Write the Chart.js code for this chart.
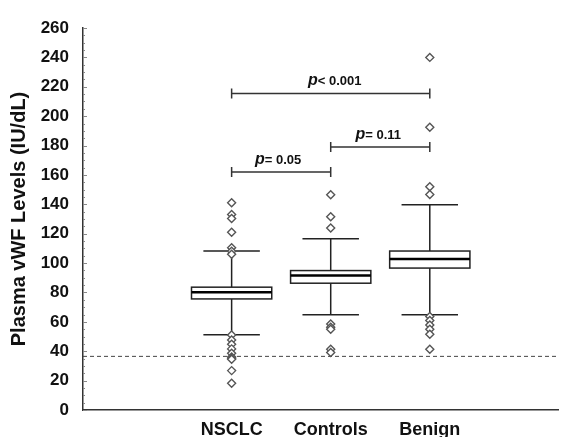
<!DOCTYPE html>
<html>
<head>
<meta charset="utf-8">
<script src="https://cdn.jsdelivr.net/npm/chart.js@4.4.0/dist/chart.umd.min.js"></script>
<style>
  html, body { margin: 0; padding: 0; background: #fff; }
  #wrap { width: 564px; height: 437px; }
</style>
</head>
<body>
<div id="wrap"><canvas id="chart" width="564" height="437"></canvas></div>
<script>
// groups and tick labels (x positions 0..4, outer two are blank)
const tickLabels = ['', 'NSCLC', 'Controls', 'Benign', ''];
const groupPos = [1, 2, 3];

// box stats per group: whisker low, q1, median, q3, whisker high
const whiskerLow = [51.3, 64.9, 64.9];
const q1 = [75.6, 86.3, 96.6];
const median = [80.2, 91.5, 102.7];
const q3 = [83.6, 94.9, 108.2];
const whiskerHigh = [108.2, 116.5, 139.7];

// outliers
const outNSCLC = [141, 133, 130.4, 121, 110.5, 108, 106, 51.1, 47.7, 44.8, 41.6, 38.6, 36, 35.2, 34.5, 26.8, 18.2];
const outControls = [146.5, 131.5, 123.8, 58.6, 56.4, 55.0, 41.4, 39.1];
const outBenign = [240, 192.4, 152, 146.7, 63.6, 60.9, 57.9, 55.0, 51.6, 41.4];

// cutoff line and p-value brackets
const cutoff = 36.5;
const brackets = [
  { from: 1, to: 3, y: 215.5, p: '< 0.001', shift: 4 },
  { from: 1, to: 2, y: 162, p: '= 0.05', shift: -3 },
  { from: 2, to: 3, y: 179, p: '= 0.11', shift: -2 }
];

const FONT = "'Liberation Sans', Arial, sans-serif";

function toPoints(x, vals) {
  return vals.map(v => ({ x: x, y: v }));
}

// draws boxes, whiskers, cutoff line, brackets using the chart scales
const boxPlugin = {
  id: 'boxes',
  beforeDatasetsDraw(chart) {
    const { ctx, scales: { x, y }, chartArea } = chart;
    ctx.save();

    // dashed cutoff
    ctx.strokeStyle = '#444';
    ctx.lineWidth = 1;
    ctx.setLineDash([4, 3]);
    ctx.beginPath();
    ctx.moveTo(chartArea.left, y.getPixelForValue(cutoff));
    ctx.lineTo(chartArea.right, y.getPixelForValue(cutoff));
    ctx.stroke();
    ctx.setLineDash([]);

    // small inside ticks on the y axis
    ctx.strokeStyle = '#888';
    for (let v = 0; v <= 260; v += 5) {
      const py = Math.round(y.getPixelForValue(v)) + 0.5;
      const len = v % 20 === 0 ? 4 : 2;
      ctx.beginPath();
      ctx.moveTo(chartArea.left, py);
      ctx.lineTo(chartArea.left + len, py);
      ctx.stroke();
    }

    ctx.strokeStyle = '#222';
    for (let i = 0; i < groupPos.length; i++) {
      const cx = x.getPixelForValue(groupPos[i]);
      const boxHalf = (x.getPixelForValue(groupPos[i] + 0.405) - cx);
      const capHalf = (x.getPixelForValue(groupPos[i] + 0.285) - cx);
      const yLo = y.getPixelForValue(whiskerLow[i]);
      const yHi = y.getPixelForValue(whiskerHigh[i]);
      const yQ1 = y.getPixelForValue(q1[i]);
      const yQ3 = y.getPixelForValue(q3[i]);
      const yMed = y.getPixelForValue(median[i]);

      ctx.lineWidth = 1.5;
      // whiskers
      ctx.beginPath();
      ctx.moveTo(cx, yLo); ctx.lineTo(cx, yQ1);
      ctx.moveTo(cx, yQ3); ctx.lineTo(cx, yHi);
      ctx.moveTo(cx - capHalf, yLo); ctx.lineTo(cx + capHalf, yLo);
      ctx.moveTo(cx - capHalf, yHi); ctx.lineTo(cx + capHalf, yHi);
      ctx.stroke();
      // box
      ctx.fillStyle = '#fff';
      ctx.fillRect(cx - boxHalf, yQ3, boxHalf * 2, yQ1 - yQ3);
      ctx.strokeRect(cx - boxHalf, yQ3, boxHalf * 2, yQ1 - yQ3);
      // median
      ctx.lineWidth = 2.5;
      ctx.strokeStyle = '#000';
      ctx.beginPath();
      ctx.moveTo(cx - boxHalf, yMed); ctx.lineTo(cx + boxHalf, yMed);
      ctx.stroke();
      ctx.strokeStyle = '#222';
    }

    // brackets
    ctx.lineWidth = 1.5;
    ctx.strokeStyle = '#333';
    brackets.forEach(b => {
      const x1 = x.getPixelForValue(b.from);
      const x2 = x.getPixelForValue(b.to);
      const py = y.getPixelForValue(b.y);
      ctx.beginPath();
      ctx.moveTo(x1, py); ctx.lineTo(x2, py);
      ctx.moveTo(x1, py - 5); ctx.lineTo(x1, py + 5);
      ctx.moveTo(x2, py - 5); ctx.lineTo(x2, py + 5);
      ctx.stroke();

      // label "p= 0.05" with italic p
      const pFont = 'bold italic 16px ' + FONT;
      const restFont = 'bold 13px ' + FONT;
      ctx.font = pFont;
      const wp = ctx.measureText('p').width;
      ctx.font = restFont;
      const wr = ctx.measureText(b.p).width;
      const mid = (x1 + x2) / 2;
      const tx = mid - (wp + wr) / 2 + b.shift;
      const ty = py - 8;
      ctx.fillStyle = '#111';
      ctx.textBaseline = 'alphabetic';
      ctx.textAlign = 'left';
      ctx.font = pFont;
      ctx.fillText('p', tx, ty);
      ctx.font = restFont;
      ctx.fillText(b.p, tx + wp, ty);
    });

    ctx.restore();
  }
};

const diamond = {
  showLine: false,
  pointStyle: 'rectRot',
  pointRadius: 4,
  pointBackgroundColor: '#fff',
  pointBorderColor: '#555',
  pointBorderWidth: 1.4
};

new Chart(document.getElementById('chart'), {
  type: 'scatter',
  data: {
    datasets: [
      Object.assign({ label: 'NSCLC', data: toPoints(1, outNSCLC) }, diamond),
      Object.assign({ label: 'Controls', data: toPoints(2, outControls) }, diamond),
      Object.assign({ label: 'Benign', data: toPoints(3, outBenign) }, diamond)
    ]
  },
  options: {
    responsive: false,
    animation: false,
    layout: { padding: { top: 28, right: 0, left: 7, bottom: 0 } },
    plugins: { legend: { display: false }, tooltip: { enabled: false } },
    scales: {
      x: {
        type: 'linear',
        min: -0.5,
        max: 4.3,
        grid: { display: false },
        border: { display: true, color: '#333', width: 1.5 },
        afterBuildTicks: (scale) => {
          scale.ticks = tickLabels.map((t, i) => ({ value: i }));
        },
        afterFit: (scale) => { scale.height = 27; },
        ticks: {
          autoSkip: false,
          maxRotation: 0,
          padding: 1,
          color: '#111',
          font: { family: FONT, size: 18, weight: 'bold' },
          callback: (v) => tickLabels[v] || ''
        }
      },
      y: {
        min: 0,
        max: 260,
        grid: { display: false },
        border: { display: true, color: '#333', width: 1.5 },
        afterFit: (scale) => { scale.width = 76; },
        ticks: {
          stepSize: 20,
          padding: 6,
          color: '#111',
          font: { family: FONT, size: 17, weight: 'bold' }
        },
        title: {
          display: true,
          text: 'Plasma vWF Levels (IU/dL)',
          color: '#111',
          padding: { top: 0, bottom: 5 },
          font: { family: FONT, size: 20, weight: 'bold' }
        }
      }
    }
  },
  plugins: [boxPlugin]
});
</script>
</body>
</html>
